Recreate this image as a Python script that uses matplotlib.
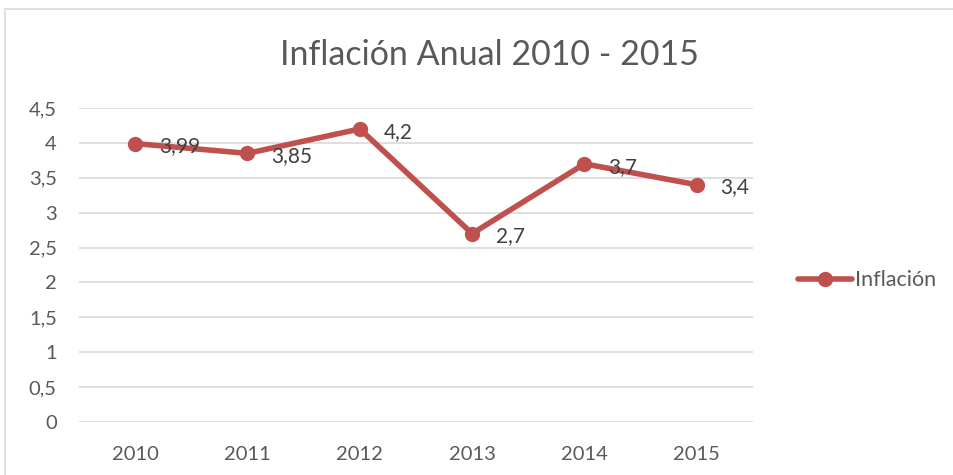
import matplotlib.pyplot as plt
from matplotlib.patches import Rectangle

years = ["2010", "2011", "2012", "2013", "2014", "2015"]
inflacion = [3.99, 3.85, 4.2, 2.7, 3.7, 3.4]
labels = ["3,99", "3,85", "4,2", "2,7", "3,7", "3,4"]
yticks = [0, 0.5, 1, 1.5, 2, 2.5, 3, 3.5, 4, 4.5]
ytick_labels = ["0", "0,5", "1", "1,5", "2", "2,5", "3", "3,5", "4", "4,5"]

red = "#C0504D"
grey_text = "#595959"
grid = "#D9D9D9"

plt.rcParams["font.family"] = ["Lato", "DejaVu Sans"]

fig = plt.figure(figsize=(9.54, 4.75), dpi=100)
ax = fig.add_axes([0.0828, 0.1116, 0.7065, 0.661])

# chart frame
fig.patches.append(Rectangle((5 / 954, -0.1), 2.0, (475 - 9) / 475 + 0.1,
                             transform=fig.transFigure, fill=False,
                             edgecolor=grid, linewidth=1.2))

x = list(range(len(years)))
line, = ax.plot(x, inflacion, color=red, linewidth=4, marker="o",
                markersize=10, solid_capstyle="round", label="Inflación")

for xi, yi, lab in zip(x, inflacion, labels):
    ax.annotate(lab, (xi, yi), xytext=(17, -2), textcoords="offset points",
                ha="left", va="center", fontsize=15, color="#404040")

ax.set_xlim(-0.5, len(years) - 0.5)
ax.set_ylim(0, 4.5)
ax.set_xticks(x)
ax.set_xticklabels(years)
ax.set_yticks(yticks)
ax.set_yticklabels(ytick_labels)
ax.tick_params(length=0, labelsize=14.5, colors=grey_text)
ax.tick_params(axis="x", pad=17)
ax.tick_params(axis="y", pad=16)
ax.grid(axis="y", color=grid, linewidth=1.2)
ax.set_axisbelow(True)
for s in ax.spines.values():
    s.set_visible(False)

fig.text(0.513, 0.884, "Inflación Anual 2010 - 2015", ha="center", va="center",
         fontsize=24.5, color=grey_text)

fig.legend(handles=[line], loc="center left", bbox_to_anchor=(0.816, 0.41),
           frameon=False, fontsize=15.5, labelcolor=grey_text,
           handlelength=2.5, handletextpad=0.15)

fig.savefig("out.png", dpi=100, facecolor="white")
